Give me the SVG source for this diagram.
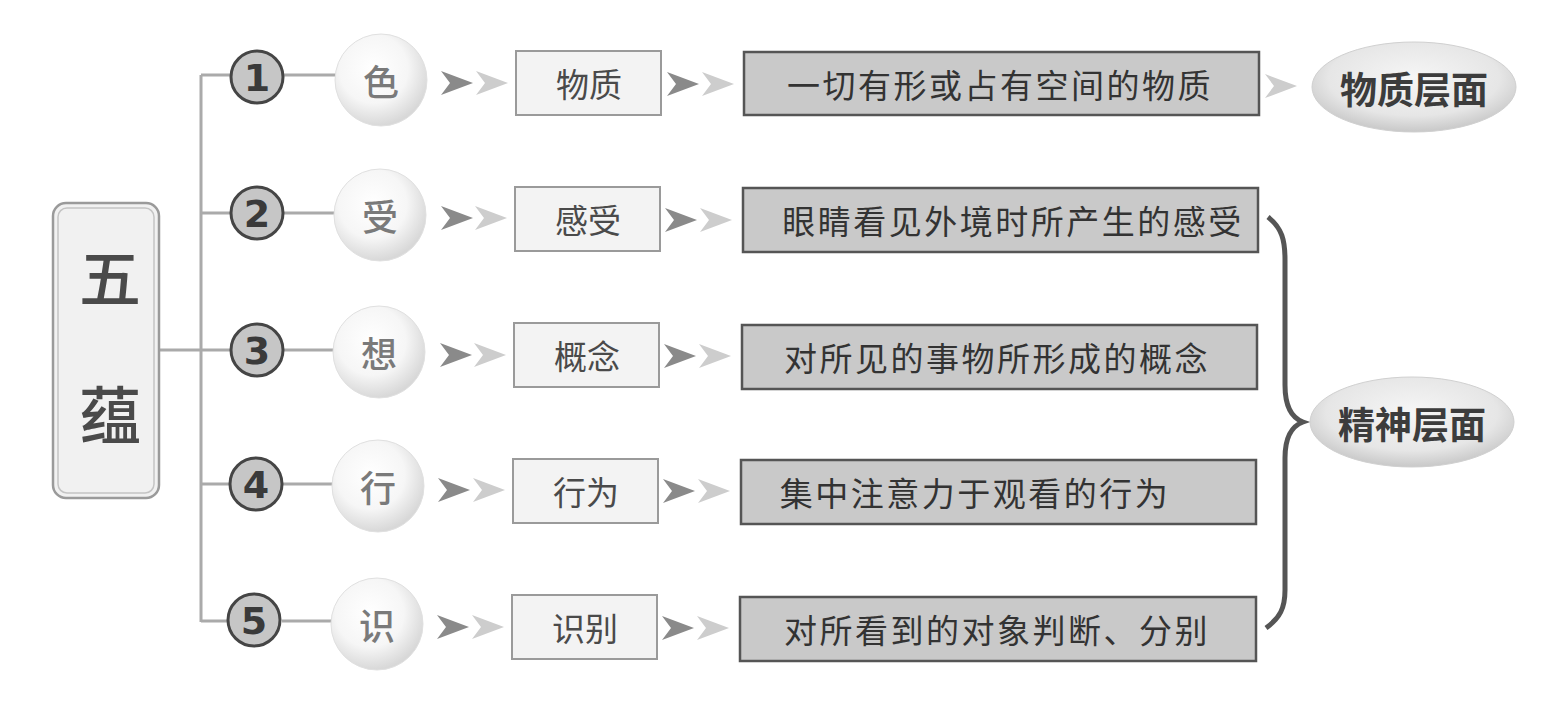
<svg xmlns="http://www.w3.org/2000/svg" xmlns:xlink="http://www.w3.org/1999/xlink" width="1546" height="702" viewBox="0 0 1546 702">
<style>
.cjk{font-family:"Noto Sans CJK SC","Noto Sans",sans-serif;text-anchor:middle;dominant-baseline:central}
.line{stroke:#aaaaaa;stroke-width:3;fill:none}
.num{fill:#c6c6c6;stroke:#454545;stroke-width:3}
.numt{font-family:"DejaVu Sans",sans-serif;font-weight:bold;font-size:38px;fill:#3a3a3a;text-anchor:middle;dominant-baseline:central}
.ball{fill:url(#ballg);stroke:#e0e0e0;stroke-width:1}
.ballt{font-size:36px;fill:#7a7a7a;font-weight:500}
.lbox{fill:#f3f3f3;stroke:#9a9a9a;stroke-width:2}
.lboxt{font-size:33px;fill:#4a4a4a}
.dbox{fill:#c9c9c9;stroke:#555;stroke-width:2.5}
.dboxt{font-size:33px;fill:#333;letter-spacing:2.5px}
.ell{fill:url(#ellg);stroke:#d0d0d0;stroke-width:1}
.ellt{font-size:37px;font-weight:bold;fill:#3c3c3c}
.dark{fill:#8a8a8a}
.light{fill:#cdcdcd}
</style>
<defs>
<radialGradient id="ballg" cx="0.42" cy="0.38" r="0.62">
<stop offset="0" stop-color="#ffffff"/>
<stop offset="0.6" stop-color="#f6f6f6"/>
<stop offset="1" stop-color="#d8d8d8"/>
</radialGradient>
<radialGradient id="ellg" cx="0.5" cy="0.4" r="0.6">
<stop offset="0" stop-color="#f6f6f6"/>
<stop offset="0.7" stop-color="#e6e6e6"/>
<stop offset="1" stop-color="#c8c8c8"/>
</radialGradient>
<path id="chev" d="M0,-12 L32,0 L0,12 L9,0 Z"/>
</defs>
<rect width="1546" height="702" fill="#ffffff"/>

<g id="connectors">
<path class="line" d="M160,350 H201"/>
<path class="line" d="M201,75 V622"/>
<path class="line" d="M201,75 H232 M282,75 H336"/>
<path class="line" d="M201,213 H232 M282,213 H336"/>
<path class="line" d="M201,350 H232 M282,350 H336"/>
<path class="line" d="M201,484 H232 M282,484 H336"/>
<path class="line" d="M201,621 H232 M282,621 H336"/>
<use xlink:href="#chev" class="dark" x="441" y="83"/><use xlink:href="#chev" class="light" x="476" y="83"/>
<use xlink:href="#chev" class="dark" x="667" y="84"/><use xlink:href="#chev" class="light" x="702" y="84"/>
<use xlink:href="#chev" class="dark" x="441" y="218"/><use xlink:href="#chev" class="light" x="475" y="218"/>
<use xlink:href="#chev" class="dark" x="665" y="220"/><use xlink:href="#chev" class="light" x="700" y="220"/>
<use xlink:href="#chev" class="dark" x="440" y="355"/><use xlink:href="#chev" class="light" x="474" y="355"/>
<use xlink:href="#chev" class="dark" x="664" y="356"/><use xlink:href="#chev" class="light" x="699" y="356"/>
<use xlink:href="#chev" class="dark" x="438" y="490"/><use xlink:href="#chev" class="light" x="473" y="490"/>
<use xlink:href="#chev" class="dark" x="663" y="491"/><use xlink:href="#chev" class="light" x="698" y="491"/>
<use xlink:href="#chev" class="dark" x="437" y="627"/><use xlink:href="#chev" class="light" x="472" y="627"/>
<use xlink:href="#chev" class="dark" x="662" y="628"/><use xlink:href="#chev" class="light" x="697" y="628"/>
<use xlink:href="#chev" class="light" x="1265" y="86"/>
<path d="M1268,217 C1282,228 1285,240 1285,260 V385 C1285,408 1292,418 1303,422 C1292,426 1285,436 1285,458 V590 C1285,608 1280,618 1266,628" fill="none" stroke="#555" stroke-width="5"/>
</g>

<g id="root">
<rect x="53" y="203" width="106" height="295" rx="13" fill="#f1f1f1" stroke="#9a9a9a" stroke-width="2.5"/>
<rect x="58" y="208" width="96" height="285" rx="9" fill="none" stroke="#c4c4c4" stroke-width="1.5"/>
<text class="cjk" x="110" y="275" font-size="62" fill="#4a4a4a" font-weight="500">五</text>
<text class="cjk" x="110" y="412" font-size="62" fill="#4a4a4a" font-weight="500">蕴</text>
</g>

<g id="row1">
<circle class="num" cx="257" cy="77" r="26"/><text class="numt" x="257" y="78">1</text>
<circle class="ball" cx="381" cy="80" r="46"/><text class="cjk ballt" x="381" y="80">色</text>
<rect class="lbox" x="516" y="51" width="145" height="64"/><text class="cjk lboxt" x="589" y="83">物质</text>
<rect class="dbox" x="744" y="52" width="515" height="63"/><text class="cjk dboxt" x="1000" y="84">一切有形或占有空间的物质</text>
</g>
<g id="row2">
<circle class="num" cx="257" cy="213" r="26"/><text class="numt" x="257" y="214">2</text>
<circle class="ball" cx="380" cy="215" r="46"/><text class="cjk ballt" x="380" y="215">受</text>
<rect class="lbox" x="515" y="187" width="145" height="64"/><text class="cjk lboxt" x="588" y="219">感受</text>
<rect class="dbox" x="743" y="188" width="515" height="64"/><text class="cjk dboxt" x="1013" y="220">眼睛看见外境时所产生的感受</text>
</g>
<g id="row3">
<circle class="num" cx="257" cy="350" r="26"/><text class="numt" x="257" y="351">3</text>
<circle class="ball" cx="379" cy="352" r="46"/><text class="cjk ballt" x="379" y="352">想</text>
<rect class="lbox" x="514" y="323" width="145" height="64"/><text class="cjk lboxt" x="587" y="355">概念</text>
<rect class="dbox" x="742" y="325" width="515" height="64"/><text class="cjk dboxt" x="997" y="357">对所见的事物所形成的概念</text>
</g>
<g id="row4">
<circle class="num" cx="256" cy="484" r="26"/><text class="numt" x="256" y="485">4</text>
<circle class="ball" cx="378" cy="486" r="46"/><text class="cjk ballt" x="378" y="486">行</text>
<rect class="lbox" x="513" y="459" width="145" height="64"/><text class="cjk lboxt" x="586" y="491">行为</text>
<rect class="dbox" x="741" y="460" width="515" height="64"/><text class="cjk dboxt" x="975" y="492">集中注意力于观看的行为</text>
</g>
<g id="row5">
<circle class="num" cx="254" cy="620" r="26"/><text class="numt" x="254" y="621">5</text>
<circle class="ball" cx="377" cy="624" r="46"/><text class="cjk ballt" x="377" y="624">识</text>
<rect class="lbox" x="512" y="595" width="145" height="64"/><text class="cjk lboxt" x="585" y="627">识别</text>
<rect class="dbox" x="740" y="597" width="516" height="64"/><text class="cjk dboxt" x="997" y="629">对所看到的对象判断、分别</text>
</g>

<g id="material">
<ellipse class="ell" cx="1414" cy="87" rx="102" ry="45"/>
<text class="cjk ellt" x="1414" y="88">物质层面</text>
</g>
<g id="spirit">
<ellipse class="ell" cx="1412" cy="422" rx="102" ry="45"/>
<text class="cjk ellt" x="1412" y="423">精神层面</text>
</g>
</svg>
